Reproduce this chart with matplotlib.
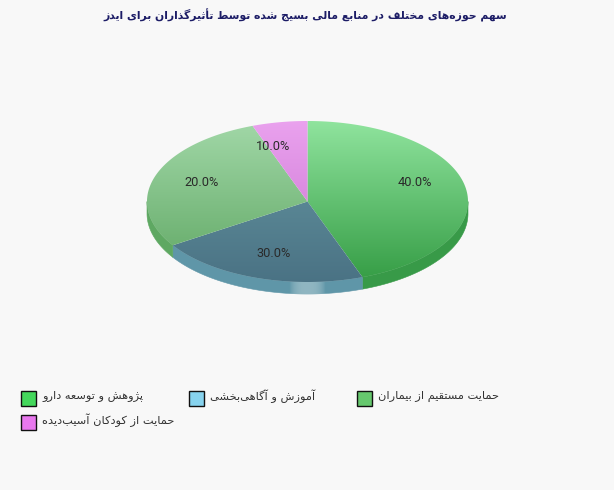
import numpy as np
import matplotlib
matplotlib.use("Agg")
import matplotlib.pyplot as plt
from matplotlib.patches import Polygon, Rectangle

# ---- data ----
title_text = "سهم حوزه\u200cهای مختلف در منابع مالی بسیج شده توسط تأثیرگذاران برای ایدز"
categories = ["پژوهش و توسعه دارو", "آموزش و آگاهی\u200cبخشی",
              "حمایت مستقیم از بیماران", "حمایت از کودکان آسیب\u200cدیده"]
values = [40.0, 30.0, 20.0, 10.0]
legend_colors = ["#44d85c", "#87d3ee", "#66c86e", "#e878ee"]
top_colors = ["#90e49e", "#689aa4", "#a2d8a8", "#eaa2ee"]
bottom_colors = ["#349c44", "#4a7284", "#5ea662", "#c870d0"]
side_colors = ["#389a48", "#5f96a8", "#5ea862", "#c870d0"]

# ---- minimal Persian shaping (matplotlib has no shaper) ----
FORMS = {"ء": (0xFE80, 1), "آ": (0xFE81, 2), "أ": (0xFE83, 2), "ا": (0xFE8D, 2), "ب": (0xFE8F, 4),
         "ت": (0xFE95, 4), "ث": (0xFE99, 4), "ج": (0xFE9D, 4), "ح": (0xFEA1, 4), "خ": (0xFEA5, 4),
         "د": (0xFEA9, 2), "ذ": (0xFEAB, 2), "ر": (0xFEAD, 2), "ز": (0xFEAF, 2), "س": (0xFEB1, 4),
         "ش": (0xFEB5, 4), "ص": (0xFEB9, 4), "ض": (0xFEBD, 4), "ط": (0xFEC1, 4), "ظ": (0xFEC5, 4),
         "ع": (0xFEC9, 4), "غ": (0xFECD, 4), "ف": (0xFED1, 4), "ق": (0xFED5, 4), "ل": (0xFEDD, 4),
         "م": (0xFEE1, 4), "ن": (0xFEE5, 4), "ه": (0xFEE9, 4), "و": (0xFEED, 2), "ی": (0xFBFC, 4),
         "ک": (0xFB8E, 4), "گ": (0xFB92, 4), "پ": (0xFB56, 4), "ژ": (0xFB8A, 2)}


def shape(s):
    out = []
    for i, c in enumerate(s):
        if c not in FORMS:
            if c != "\u200c":
                out.append(c)
            continue
        base, n = FORMS[c]
        prev = s[i - 1] if i > 0 else " "
        nxt = s[i + 1] if i + 1 < len(s) else " "
        jp = prev in FORMS and FORMS[prev][1] == 4
        jn = n == 4 and nxt in FORMS and FORMS[nxt][1] > 1
        if n == 1:
            k = 0
        elif jp and jn:
            k = 3
        elif jn:
            k = 2
        elif jp:
            k = 1
        else:
            k = 0
        out.append(chr(base + k))
    return "".join(reversed(out))


BG = "#f8f8f8"
W, H = 614, 490
CX, CY, RX, RY, DEPTH = 307.5, 201.5, 160.5, 80.5, 12

fig = plt.figure(figsize=(W / 100, H / 100), dpi=100, facecolor=BG)
ax = fig.add_axes([0, 0, 1, 1])
ax.set_xlim(0, W)
ax.set_ylim(H, 0)
ax.axis("off")


def rim(theta):
    """Point of the ellipse on the screen ray at clockwise-from-top angle theta."""
    s, c = np.sin(theta), np.cos(theta)
    r = 1 / np.sqrt((s / RX) ** 2 + (c / RY) ** 2)
    return CX + r * s, CY - r * c


def hex2rgb(h):
    return np.array(matplotlib.colors.to_rgb(h))


def vgrad(ctop, cbot, n=256):
    t = np.linspace(0, 1, n)[:, None, None]
    return hex2rgb(ctop)[None, None, :] * (1 - t) + hex2rgb(cbot)[None, None, :] * t


edges = np.radians(np.concatenate([[0], np.cumsum(values)]) * 3.6)

# side wall: only the part facing the viewer (below the ellipse's horizontal axis)
for i in range(len(values)):
    a0, a1 = edges[i], edges[i + 1]
    lo, hi = max(a0, np.pi / 2), min(a1, 3 * np.pi / 2)
    if hi <= lo:
        continue
    th = np.linspace(lo, hi, 200)
    x, y = rim(th)
    verts = np.r_[np.c_[x, y], np.c_[x[::-1], y[::-1] + DEPTH]]
    ax.add_patch(Polygon(verts, closed=True, fc=side_colors[i], ec=side_colors[i], lw=0.4, zorder=1))
    if i == 1:  # highlight on the wall at the front of the pie
        poly = Polygon(verts, closed=True, transform=ax.transData, fc="none", ec="none")
        ax.add_patch(poly)
        u = np.linspace(-1, 1, 64)
        alpha = np.clip(1 - np.abs(u) ** 3, 0, 1) * 0.55
        img = np.zeros((1, 64, 4))
        img[..., :3] = hex2rgb("#b8d0d6")
        img[..., 3] = alpha
        im = ax.imshow(img, extent=(289, 326, CY + RY + DEPTH + 2, CY + RY - 3), aspect="auto", zorder=2,
                       interpolation="bilinear")
        im.set_clip_path(poly)

# top faces with a vertical gradient
for i in range(len(values)):
    th = np.linspace(edges[i], edges[i + 1], 200)
    x, y = rim(th)
    verts = np.r_[[[CX, CY]], np.c_[x, y]]
    poly = Polygon(verts, closed=True, fc="none", ec="none", transform=ax.transData)
    ax.add_patch(poly)
    im = ax.imshow(vgrad(top_colors[i], bottom_colors[i]),
                   extent=(CX - RX - 1, CX + RX + 1, CY + RY + 1, CY - RY - 1),
                   aspect="auto", zorder=3, interpolation="bilinear")
    im.set_clip_path(poly)

# percent labels sit at the slice mid-angles
for i, v in enumerate(values):
    mid = (edges[i] + edges[i + 1]) / 2
    ax.text(CX + 0.5 + 0.7 * RX * np.sin(mid), CY - 1.2 - 0.7 * RY * np.cos(mid), f"{v:.1f}%",
            ha="center", va="center", fontsize=9.2, family="Roboto", color="#2a2a2a", zorder=5)

ax.set_xlim(0, W)
ax.set_ylim(H, 0)

ax.text(305, 15, shape(title_text), ha="center", va="center", fontsize=7.85, fontweight="bold",
        family="DejaVu Sans", color="#1c1c66")

# legend
for i, (name, col) in enumerate(zip(categories, legend_colors)):
    col_i, row_i = i % 3, i // 3
    x0 = 20.5 + 168 * col_i
    y0 = 390.5 + 24 * row_i
    ax.add_patch(Rectangle((x0, y0), 15, 15, fc=col, ec="#111111", lw=1, zorder=4))
    ax.text(x0 + 21.5, y0 + 5.5, shape(name), ha="left", va="center", fontsize=8.2,
            family="DejaVu Sans", color="#333333")

fig.savefig("out.png", dpi=100, facecolor=BG)
